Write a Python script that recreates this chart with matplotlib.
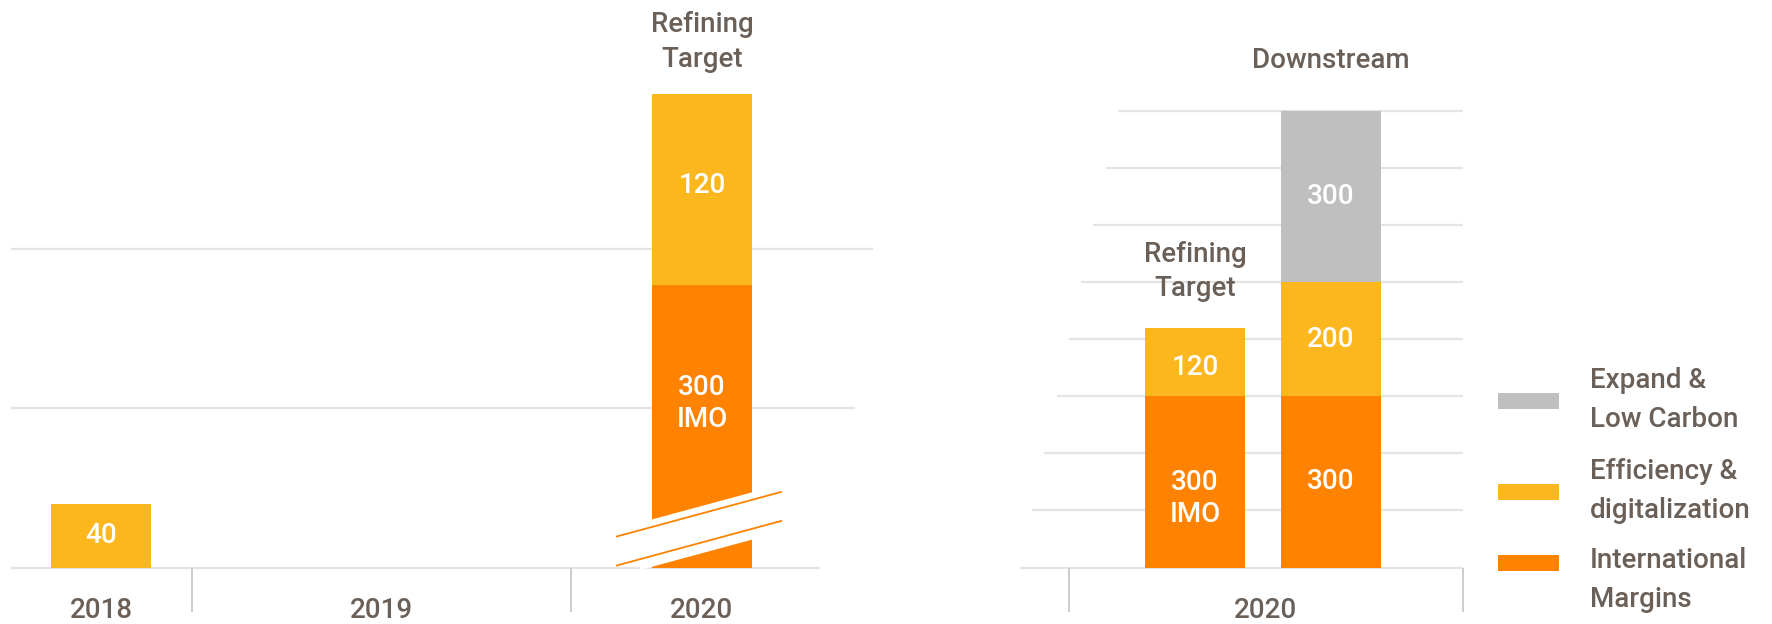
import matplotlib
matplotlib.use("Agg")
import matplotlib.pyplot as plt
from matplotlib.patches import Polygon, Rectangle

plt.rcParams['font.family'] = ['Roboto', 'DejaVu Sans']
plt.rcParams['font.weight'] = 'medium'

# ---------------- data ----------------
left_years = ['2018', '2019', '2020']
left_intl = [0, 0, 300]          # International Margins
left_eff = [40, 0, 120]          # Efficiency & digitalization
left_intl_note = ['', '', 'IMO']
left_grid = [0, 100, 200]

right_year = '2020'
right_bars = ['Refining\nTarget', 'Downstream']
right_intl = [300, 300]
right_eff = [120, 200]
right_expand = [0, 300]
right_intl_note = ['IMO', '']
right_grid = [0, 100, 200, 300, 400, 500, 600, 700, 800]

legend_labels = ['Expand &\nLow Carbon', 'Efficiency &\ndigitalization', 'International\nMargins']

# ---------------- style / layout ----------------
C_ORANGE = '#FF8300'
C_YELLOW = '#FDB71E'
C_GRAY = '#BFBFBF'
C_GRID = '#E6E3E1'
C_SEP = '#C8C8C8'
C_TEXT = '#6B6058'
FS = 20

W, H = 1772, 624
BASE = 567.5                 # baseline pixel row (from top)
S_LEFT = 1.592               # px per unit, left panel
S_RIGHT = 0.571              # px per unit, right panel
BREAK_CUT = 122.5            # units removed by the axis break (left panel)
BAR_W = 100

left_x = [101.5, 381.5, 702]
left_seps = [192, 571]
left_grid_end = [820, 855, 872.7]
left_grid_start = 11

right_x = [1195, 1331]
right_seps = [1069, 1463]
right_label_x = 1266
right_grid_start0, right_grid_start_slope = 1020, 98 / 800
right_grid_end = 1463

fig = plt.figure(figsize=(W / 100, H / 100), dpi=100)


def make_axes(scale):
    ax = fig.add_axes([0, 0, 1, 1])
    ax.set_xlim(0, W)
    ax.set_ylim(-(H - BASE) / scale, BASE / scale)
    ax.axis('off')
    ax.patch.set_alpha(0)
    return ax


ax1 = make_axes(S_LEFT)
ax2 = make_axes(S_RIGHT)
axp = fig.add_axes([0, 0, 1, 1])
axp.set_xlim(0, W)
axp.set_ylim(H, 0)
axp.axis('off')
axp.patch.set_alpha(0)


def py(ax_scale, pix):
    return (BASE - pix) / ax_scale


# ---------- left panel ----------
ax1.hlines(left_grid, left_grid_start, left_grid_end, color=C_GRID, lw=1.6, zorder=1)
ax1.vlines(left_seps, py(S_LEFT, 612), 0, color=C_SEP, lw=1.3, zorder=1)

for i, yr in enumerate(left_years):
    intl_disp = max(left_intl[i] - BREAK_CUT, 0) if left_intl[i] > 0 else 0
    if left_intl[i] > 0:
        ax1.bar(left_x[i], intl_disp, width=BAR_W, color=C_ORANGE, zorder=2)
    if left_eff[i] > 0:
        ax1.bar(left_x[i], left_eff[i], bottom=intl_disp, width=BAR_W, color=C_YELLOW, zorder=2)
        ax1.text(left_x[i], intl_disp + left_eff[i] / 2 + (2.5 if left_intl[i] else 0), str(left_eff[i]),
                 color='white', fontsize=FS, ha='center', va='center', zorder=5)
    if left_intl[i] > 0:
        lab = str(left_intl[i]) + ('\n' + left_intl_note[i] if left_intl_note[i] else '')
        ax1.text(left_x[i], intl_disp * 0.58, lab, color='white', fontsize=FS,
                 ha='center', va='center', linespacing=1.25, zorder=5)
        # axis break
        x0, x1 = left_x[i] - 86, left_x[i] + 80
        slope = 0.271
        up0 = 536.7
        gap = 29

        def up(x):
            return up0 - slope * (x - x0)
        bx0, bx1 = left_x[i] - 62, left_x[i] + 68
        band = [(bx0, py(S_LEFT, up(bx0) - 7.5)), (bx1, py(S_LEFT, up(bx1) - 7.5)),
                (bx1, py(S_LEFT, up(bx1) + gap + 10.8)), (bx0, py(S_LEFT, up(bx0) + gap + 10.8))]
        ax1.add_patch(Polygon(band, closed=True, facecolor='white', edgecolor='none', zorder=3))
        for off in (0, gap):
            ax1.plot([x0, x1], [py(S_LEFT, up(x0) + off), py(S_LEFT, up(x1) + off)],
                     color=C_ORANGE, lw=1.3, zorder=4, solid_capstyle='butt')
    ax1.text(left_x[i] if i != 1 else sum(left_seps) / 2, py(S_LEFT, 610), yr, color=C_TEXT,
             fontsize=FS, ha='center', va='center')

axp.text(left_x[2], 42, 'Refining\nTarget', color=C_TEXT, fontsize=FS, ha='center',
         va='center', linespacing=1.37)

# ---------- right panel ----------
for g in right_grid:
    ax2.hlines(g, right_grid_start0 + g * right_grid_start_slope, right_grid_end,
               color=C_GRID, lw=1.6, zorder=1)
ax2.vlines(right_seps, py(S_RIGHT, 612), 0, color=C_SEP, lw=1.3, zorder=1)
ax2.text(right_label_x, py(S_RIGHT, 610), right_year, color=C_TEXT, fontsize=FS,
         ha='center', va='center')

for i, name in enumerate(right_bars):
    b = 0
    for vals, col, note in ((right_intl, C_ORANGE, right_intl_note),
                            (right_eff, C_YELLOW, None),
                            (right_expand, C_GRAY, None)):
        v = vals[i]
        if v <= 0:
            continue
        ax2.bar(right_x[i], v, bottom=b, width=BAR_W, color=col, zorder=2)
        if note is not None and note[i]:
            ax2.text(right_x[i], b + v / 2 - 17 / S_RIGHT, str(v) + '\n' + note[i], color='white',
                     fontsize=FS, ha='center', va='center', linespacing=1.25, zorder=5)
        else:
            ax2.text(right_x[i], b + v / 2 - (10.6 if (i == 0 and col == C_YELLOW) else 0), str(v),
                     color='white', fontsize=FS, ha='center', va='center', zorder=5)
        b += v

axp.text(right_x[0], 271.5, right_bars[0], color=C_TEXT, fontsize=FS, ha='center',
         va='center', linespacing=1.37)
axp.text(right_x[1], 61, right_bars[1], color=C_TEXT, fontsize=FS, ha='center', va='center')

# ---------- legend ----------
leg_cols = [C_GRAY, C_YELLOW, C_ORANGE]
leg_patch_y = [401, 492, 563]
leg_text_y = [400, 491, 580]
for col, lab, pyy, ty in zip(leg_cols, legend_labels, leg_patch_y, leg_text_y):
    axp.add_patch(Rectangle((1498, pyy - 8), 61, 16, facecolor=col, edgecolor='none'))
    axp.text(1590, ty, lab, color=C_TEXT, fontsize=FS, ha='left', va='center', linespacing=1.56)

fig.savefig('out.png', dpi=100)
